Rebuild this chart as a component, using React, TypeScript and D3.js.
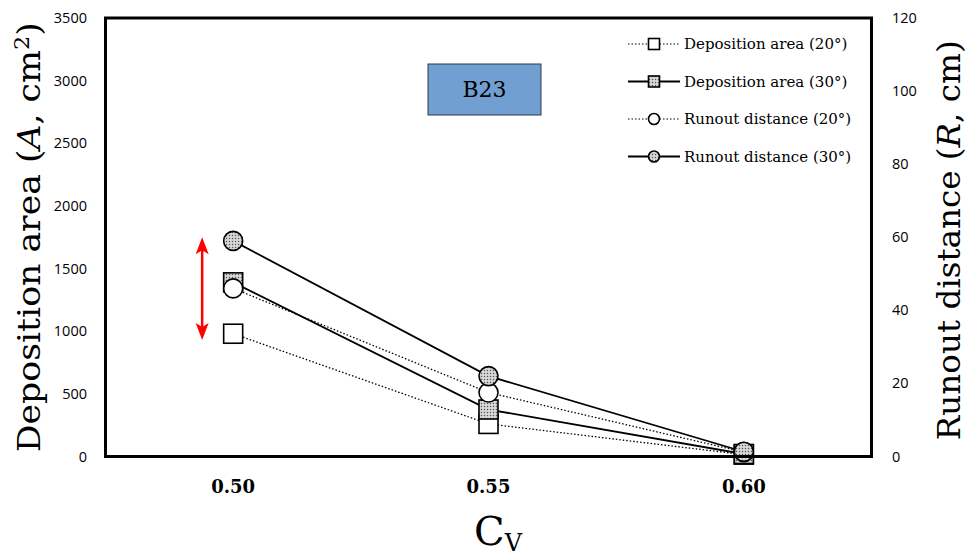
import React from "react";
import * as d3 from "d3";

const cvLevels = ["0.50", "0.55", "0.60"];
const depositionArea20 = [980, 260, 15];
const depositionArea30 = [1390, 375, 20];
const runout20 = [46, 17.5, 1.2];
const runout30 = [59, 22, 1.3];
const leftTicks = [0, 500, 1000, 1500, 2000, 2500, 3000, 3500];
const rightTicks = [0, 20, 40, 60, 80, 100, 120];
const legendLabels = [
  "Deposition area (20°)",
  "Deposition area (30°)",
  "Runout distance (20°)",
  "Runout distance (30°)",
];
// arrow spans these deposition-area values at Cv = 0.50
const arrowSpan = [930, 1750];

const W = 966;
const H = 557;
const margin = { top: 18, right: 94.5, bottom: 100.5, left: 105.5 };
const serif = "'DejaVu Serif', 'Liberation Serif', serif";
const sans = "'Open Sans', 'Liberation Sans', sans-serif";

export default function App() {
  const x = d3
    .scaleBand()
    .domain(cvLevels)
    .range([margin.left, W - margin.right])
    .paddingInner(0)
    .paddingOuter(0);
  const cx = (c: string) => (x(c) as number) + x.bandwidth() / 2;
  const yL = d3.scaleLinear().domain([0, 3500]).range([H - margin.bottom, margin.top]);
  const yR = d3.scaleLinear().domain([0, 120]).range([H - margin.bottom, margin.top]);

  const lineL = d3
    .line<number>()
    .x((_, i) => cx(cvLevels[i]))
    .y((d) => yL(d));
  const lineR = d3
    .line<number>()
    .x((_, i) => cx(cvLevels[i]))
    .y((d) => yR(d));

  const series = [
    { vals: depositionArea20, line: lineL, y: yL, dash: "1.5,2", shape: "square", fill: "white" },
    { vals: depositionArea30, line: lineL, y: yL, dash: null, shape: "square", fill: "url(#dots)" },
    { vals: runout20, line: lineR, y: yR, dash: "1.5,2", shape: "circle", fill: "white" },
    { vals: runout30, line: lineR, y: yR, dash: null, shape: "circle", fill: "url(#dots)" },
  ];

  const marker = (shape: string, fill: string, px: number, py: number, s: number, key: any) =>
    shape === "square" ? (
      <rect key={key} x={px - s / 2} y={py - s / 2} width={s} height={s} fill={fill} stroke="#000" strokeWidth={1.6} />
    ) : (
      <circle key={key} cx={px} cy={py} r={s / 2} fill={fill} stroke="#000" strokeWidth={1.6} />
    );

  const x0 = margin.left;
  const x1 = W - margin.right;
  const y0 = H - margin.bottom;
  const ax = cx(cvLevels[0]) - 31;
  const aBot = yL(arrowSpan[0]);
  const aTop = yL(arrowSpan[1]);

  return (
    <svg width={W} height={H} style={{ position: "absolute", left: 0, top: 0, background: "#fff" }}>
      <defs>
        <pattern id="dots" width="3" height="3" patternUnits="userSpaceOnUse">
          <rect width="3" height="3" fill="#d8d8d8" />
          <circle cx="1.5" cy="1.5" r="0.75" fill="#555" />
        </pattern>
      </defs>

      {/* series lines */}
      {series.map((s, i) => (
        <path
          key={"l" + i}
          d={s.line(s.vals) as string}
          fill="none"
          stroke="#000"
          strokeWidth={s.dash ? 1.3 : 1.8}
          strokeDasharray={s.dash ?? undefined}
        />
      ))}

      {/* markers */}
      {series.map((s, i) =>
        s.vals.map((v, j) => marker(s.shape, s.fill, cx(cvLevels[j]), s.y(v), 19, `m${i}-${j}`))
      )}

      {/* frame */}
      <rect x={x0} y={margin.top} width={x1 - x0} height={y0 - margin.top} fill="none" stroke="#000" strokeWidth={3} />

      {/* red double arrow */}
      <line x1={ax} x2={ax} y1={aBot - 10} y2={aTop + 10} stroke="#ff0000" strokeWidth={2.5} />
      <path d={`M${ax},${aTop} L${ax + 6.5},${aTop + 17} L${ax},${aTop + 13} L${ax - 6.5},${aTop + 17} Z`} fill="#ff0000" />
      <path d={`M${ax},${aBot} L${ax + 6.5},${aBot - 17} L${ax},${aBot - 13} L${ax - 6.5},${aBot - 17} Z`} fill="#ff0000" />

      {/* left ticks */}
      {leftTicks.map((t) => (
        <text key={"lt" + t} x={87} y={yL(t)} dy="0.35em" textAnchor="end" fontFamily={sans} fontSize={14.5}>
          {t}
        </text>
      ))}
      {/* right ticks */}
      {rightTicks.map((t) => (
        <text key={"rt" + t} x={892} y={yR(t)} dy="0.35em" textAnchor="start" fontFamily={sans} fontSize={14.5}>
          {t}
        </text>
      ))}
      {/* x ticks */}
      {cvLevels.map((c) => (
        <text key={"xt" + c} x={cx(c)} y={493} textAnchor="middle" fontFamily={serif} fontWeight="bold" fontSize={18}>
          {c}
        </text>
      ))}

      {/* axis titles */}
      <text
        transform={`translate(40,${(margin.top + y0) / 2}) rotate(-90)`}
        textAnchor="middle"
        fontFamily={serif}
        fontSize={31}
        textLength={430}
        lengthAdjust="spacingAndGlyphs"
      >
        Deposition area (<tspan fontStyle="italic">A</tspan>, cm
        <tspan dy={-11} fontSize={20}>2</tspan>
        <tspan dy={11}>)</tspan>
      </text>
      <text
        transform={`translate(960,${(margin.top + y0) / 2 + 3}) rotate(-90)`}
        textAnchor="middle"
        fontFamily={serif}
        fontSize={31}
        textLength={400}
        lengthAdjust="spacingAndGlyphs"
      >
        Runout distance (<tspan fontStyle="italic">R</tspan>, cm)
      </text>
      <text x={498} y={545} textAnchor="middle" fontFamily={serif} fontSize={40}>
        C<tspan dy={6} fontSize={24}>V</tspan>
      </text>

      {/* B23 box */}
      <rect x={428} y={64} width={113} height={51} fill="#719fd1" stroke="#2b3a4a" strokeWidth={1} />
      <text x={484.5} y={89.5} dy="0.35em" textAnchor="middle" fontFamily={serif} fontSize={22}>
        B23
      </text>

      {/* legend */}
      {series.map((s, i) => {
        const ly = 44 + i * 37.5;
        return (
          <g key={"lg" + i}>
            <line x1={628} x2={680} y1={ly} y2={ly} stroke="#000" strokeWidth={s.dash ? 1.2 : 1.8} strokeDasharray={s.dash ?? undefined} />
            {marker(s.shape, s.fill, 654, ly, 11, "lm" + i)}
            <text x={684} y={ly} dy="0.35em" fontFamily={serif} fontSize={15}>
              {legendLabels[i]}
            </text>
          </g>
        );
      })}
    </svg>
  );
}
